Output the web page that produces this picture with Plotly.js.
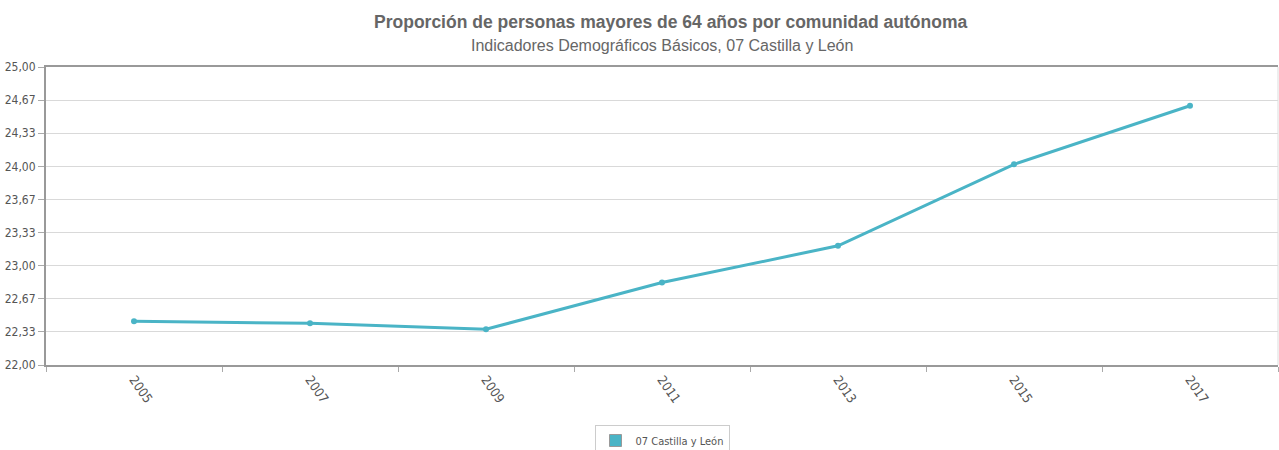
<!DOCTYPE html>
<html>
<head>
<meta charset="utf-8">
<script src="https://cdn.plot.ly/plotly-3.0.1.min.js"></script>
<style>html,body{margin:0;padding:0;background:#fff;}#chart{width:1279px;height:450px;}</style>
</head>
<body>
<div id="chart"></div>
<script>
const years = ['2005', '2007', '2009', '2011', '2013', '2015', '2017'];
const values = [22.44, 22.42, 22.36, 22.83, 23.20, 24.02, 24.61];
const yTickVals = [22, 22.3333, 22.6667, 23, 23.3333, 23.6667, 24, 24.3333, 24.6667, 25];
const yTickText = ['22,00', '22,33', '22,67', '23,00', '23,33', '23,67', '24,00', '24,33', '24,67', '25,00'];
const seriesName = '07 Castilla y León';
const titleText = 'Proporción de personas mayores de 64 años por comunidad autónoma';
const subtitleText = 'Indicadores Demográficos Básicos, 07 Castilla y León';
const lineColor = '#4ab4c6';
const yTickFont = {family: 'DejaVu Sans Condensed, DejaVu Sans, sans-serif', size: 12, color: '#555'};
const xTickFont = {family: 'DejaVu Sans Condensed, DejaVu Sans, sans-serif', size: 13, color: '#555'};

const traces = [
  {
    x: years, y: values, type: 'scatter', mode: 'lines+markers',
    name: seriesName, showlegend: false,
    line: {color: lineColor, width: 3},
    marker: {color: lineColor, size: 6},
    hoverinfo: 'x+y'
  },
  {
    x: years, y: years.map(() => null), type: 'scatter', mode: 'markers',
    name: seriesName, showlegend: true,
    marker: {color: lineColor, symbol: 'square', size: 12, line: {color: '#999', width: 1}}
  }
];

const layout = {
  width: 1279, height: 450,
  margin: {l: 46, r: 1, t: 67, b: 85, autoexpand: false},
  paper_bgcolor: '#fff', plot_bgcolor: '#fff',
  separators: ',.',
  title: {
    text: '<b>' + titleText + '</b>',
    font: {family: 'Liberation Sans, Arial, sans-serif', size: 17.5, color: '#666'},
    x: 0.507, xanchor: 'center', xref: 'paper', y: 1 - 22 / 450, yanchor: 'middle'
  },
  annotations: [
    {
      text: subtitleText, xref: 'paper', yref: 'paper', x: 0.5, y: 1 + 22 / 298,
      xanchor: 'center', yanchor: 'middle', showarrow: false,
      font: {family: 'Liberation Sans, Arial, sans-serif', size: 16, color: '#666'}
    }
  ],
  xaxis: {
    type: 'category',
    range: [-0.5, 6.5],
    automargin: false,
    tickangle: 55,
    tickson: 'boundaries',
    ticks: 'outside', ticklen: 5, tickcolor: '#aaa',
    showgrid: false,
    showline: true, linecolor: '#999', linewidth: 2, mirror: true,
    tickfont: xTickFont,
    fixedrange: true
  },
  yaxis: {
    range: [22, 25],
    automargin: false,
    tickvals: yTickVals, ticktext: yTickText,
    ticks: 'outside', ticklen: 6, tickcolor: '#aaa',
    showgrid: true, gridcolor: '#d9d9d9', gridwidth: 1,
    showline: true, linecolor: '#999', linewidth: 2,
    zeroline: false,
    tickfont: yTickFont,
    fixedrange: true
  },
  shapes: [
    {type: 'line', xref: 'paper', yref: 'paper', x0: 1, x1: 1, y0: 0, y1: 1, line: {color: '#ddd', width: 1}}
  ],
  legend: {
    orientation: 'h', x: 0.5, xanchor: 'center', xref: 'paper',
    yref: 'container', y: 1 - 425 / 450, yanchor: 'top',
    bordercolor: '#ccc', borderwidth: 1, bgcolor: '#fff',
    font: {family: 'DejaVu Sans Condensed, DejaVu Sans, sans-serif', size: 11, color: '#555'},
    itemwidth: 30
  },
  showlegend: true
};

Plotly.newPlot('chart', traces, layout, {displayModeBar: false, staticPlot: true});
</script>
</body>
</html>
